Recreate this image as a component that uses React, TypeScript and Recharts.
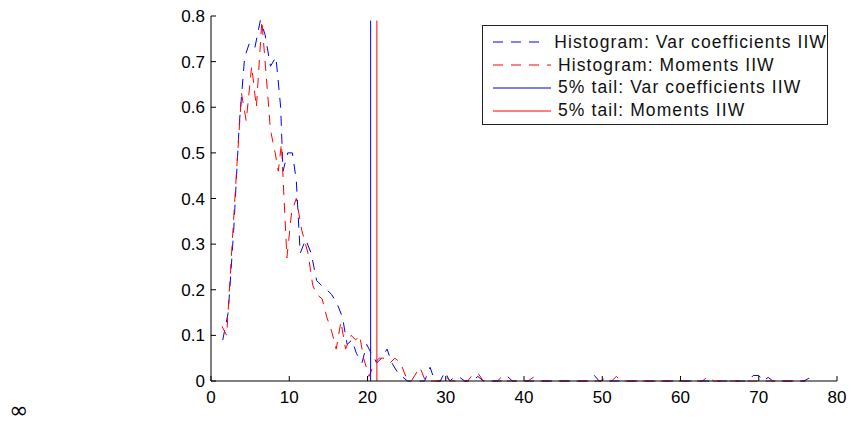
import { Line, LineChart, ReferenceLine, XAxis, YAxis } from "recharts";

// histogram polygon, Var coefficients IIW (blue)
const varX = [
  1.5, 2.2, 2.9, 3.6, 4.3, 4.9, 5.6, 6.3, 6.9, 7.6, 8.3, 8.9, 9.2, 9.8, 10.4, 10.9, 11.4, 12.1, 12.8,
  13.5, 14.1, 14.8, 15.4, 16.1, 16.8, 17.4, 18.0, 18.6, 19.3, 19.9, 20.5, 21.2, 21.8, 22.5, 23.1, 23.8,
  24.4, 25.1, 27.3, 28.0, 28.6, 29.3, 29.9, 30.5, 31.1, 31.8, 32.4, 33.4, 34.1, 34.8, 37.2, 37.9, 38.5,
  48.3, 49.0, 49.6, 68.6, 69.3, 70.0, 70.6, 71.2, 71.8, 75.8, 76.4, 77.0,
];
const varY = [
  0.09, 0.15, 0.33, 0.56, 0.71, 0.74, 0.73, 0.79, 0.76, 0.69, 0.71, 0.6, 0.46, 0.5, 0.5, 0.44, 0.28, 0.31, 0.28,
  0.22, 0.21, 0.2, 0.19, 0.17, 0.14, 0.08, 0.09, 0.06, 0.04, 0.08, 0.06, 0.04, 0.05, 0.07, 0.04, 0.02,
  0.01, 0, 0, 0.03, 0, 0, 0.02, 0, 0.008, 0.008, 0, 0, 0.01, 0, 0, 0.01, 0,
  0, 0.012, 0, 0, 0.012, 0.012, 0, 0.008, 0, 0, 0.006, 0,
];

// histogram polygon, Moments IIW (red)
const momX = [
  1.4, 2.0, 2.7, 3.3, 3.9, 4.5, 5.2, 5.8, 6.5, 7.6, 8.2, 8.6, 9.0, 9.7, 10.3, 10.9, 11.6, 12.4, 13.0,
  13.5, 14.2, 14.8, 15.4, 16.0, 16.6, 17.2, 17.9, 18.5, 19.0, 19.5, 20.2, 20.9, 21.5, 22.2, 22.9, 23.5,
  24.2, 24.9, 25.6, 26.7, 27.4, 29.4, 30.0, 30.6, 32.8, 33.5, 34.2, 34.8, 36.6, 37.2, 37.8, 40.5, 41.2,
  41.8, 49.8, 50.5, 51.2, 51.8, 52.5, 62.8, 63.5, 64.2, 76.0,
];
const momY = [
  0.12, 0.1, 0.3, 0.47, 0.63, 0.57, 0.69, 0.6, 0.79, 0.55, 0.5, 0.46, 0.52, 0.27, 0.37, 0.4, 0.33, 0.28, 0.21,
  0.19, 0.18, 0.14, 0.11, 0.07, 0.13, 0.07, 0.1, 0.09, 0.1, 0.05, 0.01, 0.04, 0.05, 0.05, 0.04, 0.05,
  0.04, 0.01, 0, 0.03, 0, 0, 0.01, 0, 0, 0.015, 0.015, 0, 0, 0.01, 0, 0, 0.008,
  0, 0, 0.008, 0, 0.01, 0, 0, 0.01, 0, 0,
];

// 5% tails
const tailVar = 20.4;
const tailMom = 21.2;
const tailTop = 0.79;

const xTicks = [0, 10, 20, 30, 40, 50, 60, 70, 80];
const yTicks = [0, 0.1, 0.2, 0.3, 0.4, 0.5, 0.6, 0.7, 0.8];

const legendItems = [
  { label: "Histogram: Var coefficients IIW", color: "#0000ff", dash: "10 8" },
  { label: "Histogram: Moments IIW", color: "#ff0000", dash: "10 8" },
  { label: "5% tail: Var coefficients IIW", color: "#0000cc", dash: undefined },
  { label: "5% tail: Moments IIW", color: "#ff0000", dash: undefined },
];

const zip = (xs: number[], ys: number[]) => xs.map((x, i) => ({ x, y: ys[i] }));
const varData = zip(varX, varY);
const momData = zip(momX, momY);

const font = "'Liberation Sans', Arial, sans-serif";
const tickStyle = { fill: "#000", fontSize: 17, fontFamily: font };

function LegendBox() {
  return (
    <div
      style={{
        position: "absolute",
        left: 482,
        top: 25,
        width: 346,
        height: 100,
        border: "1px solid #222",
        background: "#fff",
        fontFamily: font,
        fontSize: 17.5,
        letterSpacing: 1.1,
        color: "#111",
        paddingTop: 5,
        boxSizing: "border-box",
      }}
    >
      {legendItems.map((it) => (
        <div key={it.label} style={{ height: 22.8, display: "flex", alignItems: "center", whiteSpace: "nowrap" }}>
          <svg width={58} height={10} style={{ marginLeft: 10, marginRight: 7 }}>
            <line x1={0} y1={5} x2={58} y2={5} stroke={it.color} strokeDasharray={it.dash} />
          </svg>
          <span>{it.label}</span>
        </div>
      ))}
    </div>
  );
}

export default function App() {
  return (
    <div style={{ position: "absolute", left: 0, top: 0, width: 851, height: 422, background: "#fff" }}>
      <LineChart width={851} height={422} margin={{ top: 16, right: 14, left: 0, bottom: 0 }}>
        <XAxis
          type="number"
          dataKey="x"
          domain={[0, 80]}
          ticks={xTicks}
          height={41}
          axisLine={{ stroke: "#000" }}
          tickLine={{ stroke: "#000" }}
          tickSize={-5}
          tickMargin={15}
          tick={tickStyle}
        />
        <YAxis
          type="number"
          dataKey="y"
          domain={[0, 0.8]}
          ticks={yTicks}
          width={211}
          axisLine={{ stroke: "#000" }}
          tickLine={{ stroke: "#000" }}
          tickSize={-5}
          tickMargin={11}
          tick={tickStyle}
          tickFormatter={(v: number) => (v === 0 ? "0" : v.toFixed(1))}
        />
        <Line
          data={varData}
          dataKey="y"
          type="linear"
          stroke="#0000ff"
          strokeDasharray="10 8"
          dot={false}
          isAnimationActive={false}
        />
        <Line
          data={momData}
          dataKey="y"
          type="linear"
          stroke="#ff0000"
          strokeDasharray="10 8"
          dot={false}
          isAnimationActive={false}
        />
        <ReferenceLine
          segment={[
            { x: tailVar, y: 0 },
            { x: tailVar, y: tailTop },
          ]}
          stroke="#0000ff"
        />
        <ReferenceLine
          segment={[
            { x: tailMom, y: 0 },
            { x: tailMom, y: tailTop },
          ]}
          stroke="#ff0000"
        />
      </LineChart>
      <LegendBox />
      <div
        style={{
          position: "absolute",
          left: 9,
          top: 400,
          fontFamily: "'DejaVu Sans', sans-serif",
          fontSize: 23,
          lineHeight: "20px",
          color: "#000",
        }}
      >
        ∞
      </div>
    </div>
  );
}
